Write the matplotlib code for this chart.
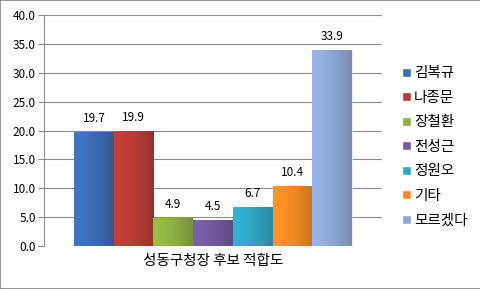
import matplotlib
matplotlib.use("Agg")
import matplotlib.pyplot as plt
import numpy as np
from matplotlib.patches import Patch, Rectangle
from matplotlib.colors import to_rgb

plt.rcParams['font.family'] = ['Noto Sans CJK KR', 'DejaVu Sans']

categories = ['김복규', '나종문', '장철환', '전성근', '정원오', '기타', '모르겠다']
values = [19.7, 19.9, 4.9, 4.5, 6.7, 10.4, 33.9]
colors = ['#3B6DB4', '#B83B36', '#8DB143', '#7359A1', '#2FA6C5', '#F28B22', '#8EA8D6']
yticks = [0, 5, 10, 15, 20, 25, 30, 35, 40]
xlabel = '성동구청장 후보 적합도'

fig = plt.figure(figsize=(4.81, 2.89), dpi=100)
fig.patches.append(Rectangle((0, 0), 1, 1, transform=fig.transFigure,
                             fill=False, edgecolor='#808080', linewidth=1.2))
ax = fig.add_axes([44/481, 1-246/289, 338/481, 231/289])

n = len(values)
group = 0.822
w = group / n
prof = np.linspace(0, 1, 64)
shade = 1.08 - 0.25 * prof ** 1.5
for i, (v, c, lab) in enumerate(zip(values, colors, categories)):
    x = -group/2 + w*(i + 0.5)
    bars = ax.bar(x, v, width=w, color=c, edgecolor='white', linewidth=0.4, label=lab, zorder=3)
    rgb = np.array(to_rgb(c))
    img = np.clip(rgb[None, None, :] * shade[None, :, None], 0, 1)
    im = ax.imshow(img, extent=(x - w/2, x + w/2, 0, v), aspect='auto', zorder=3.5,
                   interpolation='bilinear')
    im.set_clip_path(bars[0])
    ax.text(x, v + 1.2, f'{v:.1f}', ha='center', va='bottom', fontsize=8.5, zorder=4)

ax.set_xlim(-0.5, 0.5)
ax.set_ylim(0, 40)
ax.set_yticks(yticks)
ax.set_yticklabels([f'{t:.1f}' for t in yticks], fontsize=8.5)
ax.set_xticks([])
ax.grid(axis='y', color='#8c8c8c', linewidth=0.8, zorder=0)
for s in ['top', 'right', 'bottom']:
    ax.spines[s].set_visible(False)
ax.spines['left'].set_color('#8c8c8c')
ax.tick_params(axis='y', length=4, color='#8c8c8c', pad=2)
ax.set_xlabel(xlabel, fontsize=10.5, labelpad=6)

handles = [Patch(facecolor=c, edgecolor='white', label=l) for c, l in zip(colors, categories)]
fig.legend(handles=handles, loc='upper left', bbox_to_anchor=(395/481, 1-59/289),
           frameon=False, fontsize=10.5, handlelength=0.6, handleheight=0.6,
           handletextpad=0.2, labelspacing=0.72, borderpad=0)

fig.savefig('out.png', dpi=100)
